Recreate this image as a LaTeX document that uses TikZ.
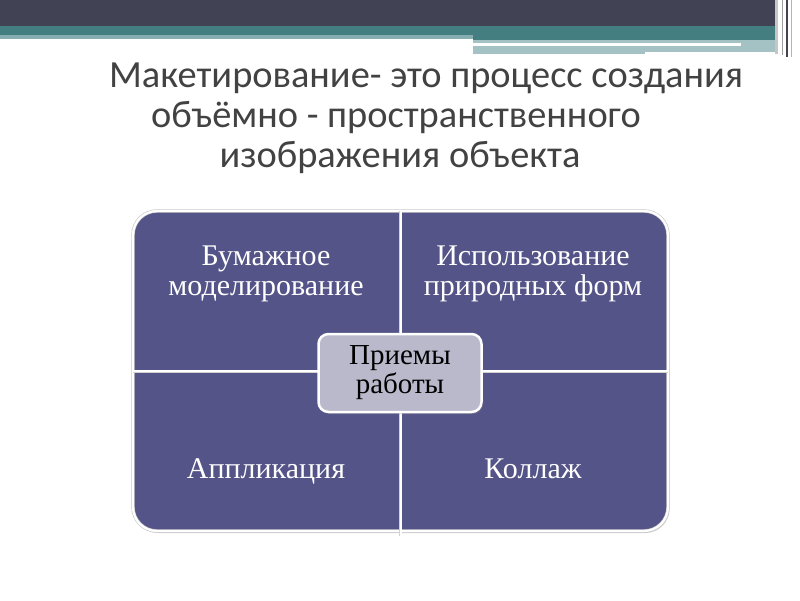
\documentclass[tikz,border=0pt]{standalone}
\usepackage{fontspec}
\setmainfont{Liberation Serif}
\newfontfamily\titlefont{Carlito}
\usetikzlibrary{shadows}
\definecolor{darkband}{HTML}{424255}
\definecolor{tealband}{HTML}{457E81}
\definecolor{lightteal}{HTML}{A4C1C3}
\definecolor{midteal}{HTML}{86ADAF}
\definecolor{cellfill}{HTML}{545488}
\definecolor{centerfill}{HTML}{B9B9CB}
\definecolor{titlegray}{HTML}{424242}
\tikzset{
  gridbox/.style={rectangle, rounded corners=24pt, fill=cellfill, draw=gray!45, double=white, double distance=2.2pt, line width=0.6pt,
    minimum width=535pt, minimum height=320pt, drop shadow={shadow xshift=1.5pt, shadow yshift=-2pt, opacity=0.35}},
  divider/.style={draw=gray!35, double=white, double distance=2pt, line width=0.5pt},
  centerbox/.style={rectangle, rounded corners=10pt, fill=centerfill, draw=white, line width=2.5pt,
    minimum width=163pt, minimum height=78pt, align=center, text=black,
    font=\fontsize{29}{29}\selectfont, drop shadow={shadow xshift=1.5pt, shadow yshift=-2pt, opacity=0.4}},
  celltext/.style={align=center, text=white, font=\fontsize{30}{30}\selectfont},
  titleline/.style={anchor=base, text=titlegray, font=\titlefont\fontsize{38.4}{40}\selectfont, inner sep=0pt}
}
\begin{document}
\begin{tikzpicture}[x=1pt,y=-1pt]
\useasboundingbox (0,0) rectangle (800,600);
\fill[white] (0,0) rectangle (800,600);
% header bands
\fill[darkband] (0,0) rectangle (775,26);
\fill[tealband] (0,26) rectangle (775,35);
\fill[midteal] (0,35) rectangle (473,39);
\fill[tealband] (473,35) rectangle (775,40);
\fill[lightteal] (473,40) rectangle (775,52);
\fill[lightteal] (473,46) rectangle (645,54);
\fill[white] (473,43) rectangle (741,46);
% right edge lines
\draw[gray!45, line width=3pt] (776.5,0) -- (776.5,54);
\draw[gray!75, line width=0.9pt] (782,0) -- (782,55);
\draw[darkband, line width=1.3pt] (787,0) -- (787,57);
\draw[gray!60, line width=0.9pt] (791,0) -- (791,57);
% title
\node[titleline] (t1) at (426,87) {Макетирование- это процесс создания};
\node[titleline] (t2) at (396,127) {объёмно - пространственного};
\node[titleline] (t3) at (400,167) {изображения объекта};
% grid
\node[gridbox] (grid) at (400.5,371) {};
\coordinate (vtail) at (400.5,536);
\draw[divider] (grid.north) -- (vtail);
\draw[divider] (grid.west) -- (grid.east);
% cells
\node[celltext] (c1) at (266,274) {Бумажное\\моделирование};
\node[celltext] (c2) at (533,274) {Использование\\природных форм};
\node[celltext, anchor=base] (c3) at (266,478) {Аппликация};
\node[celltext, anchor=base] (c4) at (533,478) {Коллаж};
% center
\node[centerbox] (center) at (400,373) {Приемы\\работы};
\end{tikzpicture}
\end{document}
